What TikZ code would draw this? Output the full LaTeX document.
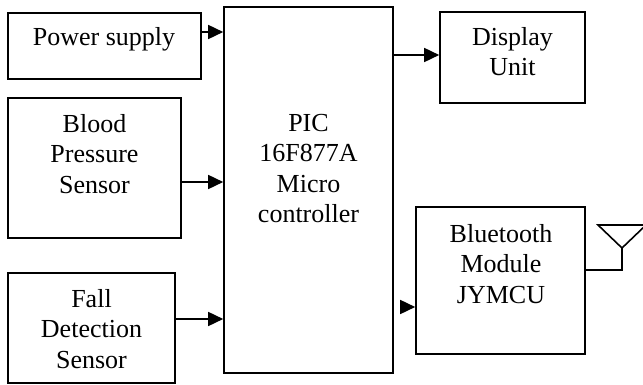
\documentclass[tikz,border=0pt]{standalone}
\usepackage{fontspec}
\setmainfont{Liberation Serif}
\usetikzlibrary{arrows.meta}
\begin{document}
\begin{tikzpicture}[x=1pt,y=-1pt,
  box/.style={draw,line width=1.6pt,inner sep=0pt,minimum width=#1},
  txt/.style={inner sep=0pt,align=center,anchor=north,font=\fontsize{26}{30.5}\selectfont},
  arr/.style={line width=1.6pt,-{Triangle[length=15pt,width=14pt]}},
  wire/.style={line width=1.6pt}]
\useasboundingbox (0,0) rectangle (643,385);
% boxes
\node[box=193pt,minimum height=66pt] (ps) at (104.5,46) {};
\node[box=173pt,minimum height=140pt] (bp) at (94.5,168) {};
\node[box=167pt,minimum height=110pt] (fd) at (91.5,328) {};
\node[box=169pt,minimum height=366pt] (mcu) at (308.5,190) {};
\node[box=145pt,minimum height=91pt] (du) at (512.5,57.5) {};
\node[box=169pt,minimum height=147pt] (bt) at (500.5,280.5) {};
% texts
\node[txt] (pst) at (104,27) {Power supply};
\node[txt] (bpt) at (94.5,114) {Blood\\Pressure\\Sensor};
\node[txt] (fdt) at (91.5,289) {Fall\\Detection\\Sensor};
\node[txt] (mcut) at (308.5,114) {PIC\\16F877A\\Micro\\controller};
\node[txt] (dut) at (512.5,27) {Display\\Unit};
\node[txt] (btt) at (501,224) {Bluetooth\\Module\\JYMCU};
% connector levels
\coordinate (y1) at (0,32);
\coordinate (y2) at (0,182);
\coordinate (y3) at (0,319);
\coordinate (y4) at (0,55);
\coordinate (btin) at (405,307);
\coordinate (y6) at (0,270);
\coordinate (ant) at (622,270);
\coordinate (apex) at (622,248);
\coordinate (tl) at (598,225);
\coordinate (tr) at (646,225);
% arrows
\draw[arr] (ps.east |- y1) -- (mcu.west |- y1);
\draw[arr] (bp.east |- y2) -- (mcu.west |- y2);
\draw[arr] (fd.east |- y3) -- (mcu.west |- y3);
\draw[arr] (mcu.east |- y4) -- (du.west |- y4);
\draw[arr] (btin) -- (bt.west |- btin);
% antenna
\draw[wire] (bt.east |- y6) -- (ant) -- (apex);
\draw[wire,line join=miter] (tl) -- (apex) -- (tr) -- cycle;
\end{tikzpicture}
\end{document}
